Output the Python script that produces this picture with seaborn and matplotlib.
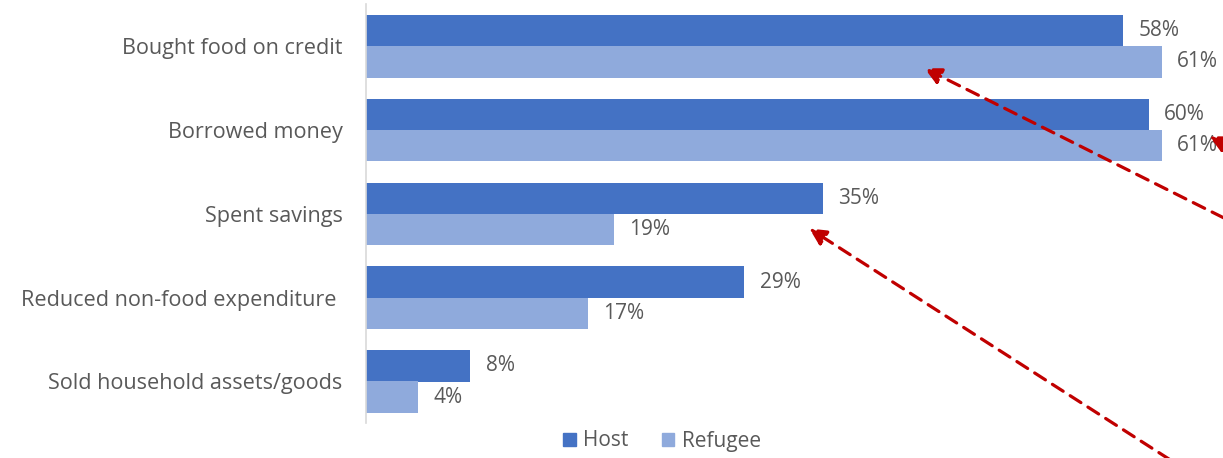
import matplotlib
matplotlib.use("Agg")
import matplotlib.pyplot as plt
import seaborn as sns
import pandas as pd

categories = ["Bought food on credit", "Borrowed money", "Spent savings",
              "Reduced non-food expenditure ", "Sold household assets/goods"]
host = [58, 60, 35, 29, 8]
refugee = [61, 61, 19, 17, 4]
groups = ["Host", "Refugee"]
colors = ["#4472C4", "#8FAADC"]

df = pd.DataFrame({
    "category": categories * 2,
    "value": host + refugee,
    "group": ["Host"] * len(categories) + ["Refugee"] * len(categories),
})

sns.set_theme(style="white")
plt.rcParams["font.family"] = ["Open Sans", "DejaVu Sans"]

W, H = 1223, 458
fig = plt.figure(figsize=(W / 100, H / 100), dpi=100)
ax = fig.add_axes([366 / W, (H - 423.4) / H, (W - 366) / W, 419 / H])

sns.barplot(data=df, y="category", x="value", hue="group", order=categories,
            hue_order=groups, palette=colors, width=0.746, orient="h",
            saturation=1, linewidth=0, ax=ax, legend=False)

ax.set_xlim(0, (W - 366) / 13.05)
ax.set_ylim(len(categories) - 0.5, -0.5)
ax.set_xlabel("")
ax.set_ylabel("")
ax.set_xticks([])
for s in ["top", "right", "bottom"]:
    ax.spines[s].set_visible(False)
ax.spines["left"].set_color("#D9D9D9")
ax.spines["left"].set_linewidth(1.2)
ax.tick_params(axis="y", length=0, pad=17, labelsize=15.6, labelcolor="#595959")

for cont in ax.containers:
    ax.bar_label(cont, labels=[f"{v:.0f}%" for v in cont.datavalues],
                 padding=11, fontsize=15, color="#595959")

# legend
from matplotlib.patches import Patch
handles = [Patch(facecolor=c, edgecolor=c) for c in colors]
fig.legend(handles, groups, loc="center", bbox_to_anchor=(662 / W, 1 - 441 / H),
           ncol=2, frameon=False, fontsize=15, handlelength=0.6, handleheight=0.6,
           handletextpad=0.35, columnspacing=1.6, labelcolor="#595959")

# red dashed arrows (annotation overlay)
arrows = [((922, 67), (1226, 219)), ((1207, 135), (1262, 163)), ((807, 227), (1172, 461))]
for tip, tail in arrows:
    fig.add_artist(matplotlib.patches.FancyArrowPatch(
        (tail[0] / W, 1 - tail[1] / H), (tip[0] / W, 1 - tip[1] / H),
        transform=fig.transFigure, arrowstyle="-|>", mutation_scale=25,
        color="#C00000", lw=2.3, linestyle=(0, (4, 2.6)), clip_on=False))

fig.savefig("out.png", dpi=100)
